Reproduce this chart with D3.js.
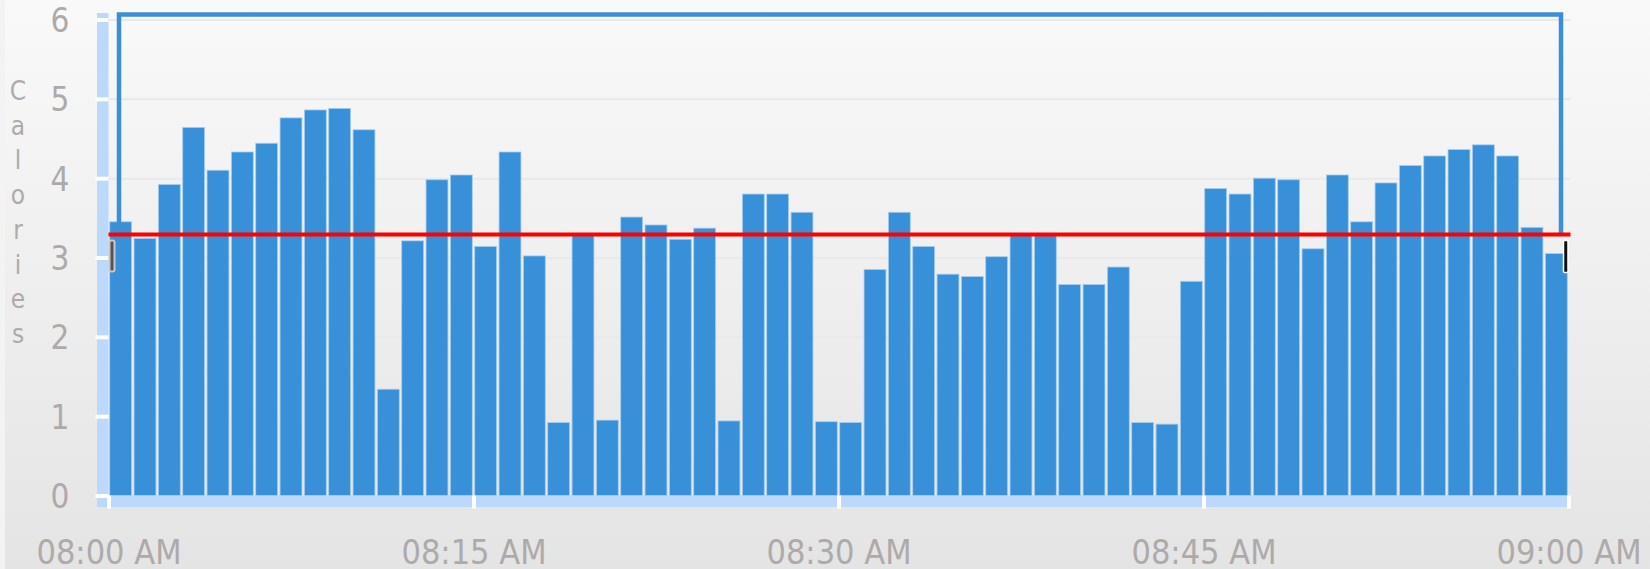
<!DOCTYPE html>
<html>
<head>
<meta charset="utf-8">
<script src="https://cdn.jsdelivr.net/npm/d3@7"></script>
<style>
  body { margin: 0; background: #f3f3f3; }
  svg { display: block; }
</style>
</head>
<body>
<script>
// ---------------- data ----------------
const calories = [3.45, 3.24, 3.92, 4.64, 4.10, 4.33, 4.44, 4.76, 4.86, 4.88,
                  4.61, 1.34, 3.21, 3.98, 4.04, 3.14, 4.33, 3.02, 0.92, 3.28,
                  0.95, 3.51, 3.41, 3.23, 3.37, 0.94, 3.80, 3.80, 3.57, 0.93,
                  0.92, 2.85, 3.57, 3.14, 2.79, 2.76, 3.01, 3.28, 3.28, 2.66,
                  2.66, 2.88, 0.92, 0.90, 2.70, 3.87, 3.80, 4.00, 3.98, 3.11,
                  4.04, 3.45, 3.94, 4.16, 4.28, 4.36, 4.42, 4.28, 3.38, 3.05];
const avgCalories = 3.29;
const yTicks = [0, 1, 2, 3, 4, 5, 6];
const xTickLabels = ["08:00 AM", "08:15 AM", "08:30 AM", "08:45 AM", "09:00 AM"];
const axisTitle = "Calories";

const parseTime = d3.timeParse("%I:%M %p");
const start = parseTime("08:00 AM"),
      end   = parseTime("09:00 AM");
// one bar per minute
const minutes = d3.timeMinute.range(start, end);

// ---------------- layout ----------------
const W = 1650, H = 569;
const plotLeft = 108.5, plotRight = 1568.5, plotTop = 19.5, plotBottom = 495.5;

const svg = d3.select("body").append("svg")
    .attr("width", W)
    .attr("height", H);

// background gradient
const grad = svg.append("defs").append("linearGradient")
    .attr("id", "bg").attr("x1", 0).attr("y1", 0).attr("x2", 0).attr("y2", 1);
grad.append("stop").attr("offset", "0%").attr("stop-color", "#f9f9f9");
grad.append("stop").attr("offset", "100%").attr("stop-color", "#e4e4e4");
svg.append("rect")
    .attr("x", 5).attr("y", 0).attr("width", W - 5).attr("height", H)
    .attr("fill", "url(#bg)");

// scales
const xTime = d3.scaleTime().domain([start, end]).range([plotLeft, plotRight]);
const xBand = d3.scaleBand().domain(minutes).range([plotLeft, plotRight])
    .paddingInner(0.1).paddingOuter(0.05);
const y = d3.scaleLinear().domain([0, 6]).range([plotBottom, plotTop]);

// gridlines
svg.append("g")
    .attr("transform", `translate(${plotLeft},0)`)
    .call(d3.axisLeft(y).tickValues(yTicks.slice(1)).tickSize(-(plotRight - plotLeft + 2)).tickFormat(""))
    .call(g => g.select(".domain").remove())
    .call(g => g.selectAll("line").attr("stroke", "#e9e9e9").attr("stroke-width", 2));

// light blue axis bands
svg.append("rect")
    .attr("x", 97).attr("y", 13).attr("width", 11.5).attr("height", 507 - 13)
    .attr("fill", "#bcd8fb");
svg.append("rect")
    .attr("x", 97).attr("y", plotBottom).attr("width", plotRight - 97).attr("height", 11.5)
    .attr("fill", "#bcd8fb");

// bars
svg.selectAll("rect.bar")
    .data(calories)
    .enter()
    .append("rect")
        .attr("class", "bar")
        .attr("x", (d, i) => xBand(minutes[i]))
        .attr("y", d => y(d))
        .attr("width", xBand.bandwidth())
        .attr("height", d => plotBottom - y(d))
        .attr("fill", "#3790d8")
        .attr("stroke", "#a8cdee")
        .attr("stroke-width", 0.8);

const labelFont = "'DejaVu Sans Condensed', 'DejaVu Sans', Tahoma, sans-serif";

// y axis
svg.append("g")
    .attr("transform", `translate(${plotLeft},0)`)
    .call(d3.axisLeft(y).tickValues(yTicks).tickSize(13).tickPadding(26).tickFormat(d3.format("d")))
    .call(g => g.select(".domain").remove())
    .call(g => g.selectAll("line").attr("stroke", "#fff").attr("stroke-width", 4))
    .call(g => g.selectAll("text")
        .attr("font-family", labelFont)
        .attr("font-size", "33px")
        .attr("fill", "#aeaaaa")
        .attr("dy", "0.36em"));

// x axis
const xTicks = xTickLabels.map(parseTime);
svg.append("g")
    .attr("transform", `translate(0,${plotBottom})`)
    .call(d3.axisBottom(xTime).tickValues(xTicks).tickSize(13).tickFormat(d3.timeFormat("%I:%M %p")))
    .call(g => g.select(".domain").remove())
    .call(g => g.selectAll("line").attr("stroke", "#fff").attr("stroke-width", 4))
    .call(g => g.selectAll("text")
        .attr("font-family", labelFont)
        .attr("font-size", "34px")
        .attr("fill", "#aeaaaa")
        .attr("y", 68)
        .attr("dy", 0));

// range selector bracket
const yAvg = y(avgCalories);
svg.append("path")
    .attr("d", `M119,${yAvg} V14.5 H1561 V${yAvg}`)
    .attr("fill", "none")
    .attr("stroke", "#3a8fd7")
    .attr("stroke-width", 4.5);

// average line
svg.append("line")
    .attr("x1", plotLeft).attr("x2", plotRight + 2)
    .attr("y1", yAvg).attr("y2", yAvg)
    .attr("stroke", "#ff0000")
    .attr("stroke-width", 4);

// drag handles
svg.append("rect")
    .attr("x", 109.5).attr("y", yAvg + 6).attr("width", 5).attr("height", 31).attr("rx", 2)
    .attr("fill", "#555").attr("stroke", "#c8c8c8").attr("stroke-width", 2);
svg.append("rect")
    .attr("x", 1563.5).attr("y", yAvg + 6).attr("width", 4.5).attr("height", 32).attr("rx", 1)
    .attr("fill", "#111").attr("stroke", "#fff").attr("stroke-width", 1.5);

// vertical stacked axis title
svg.append("g")
    .selectAll("text")
    .data(axisTitle.split(""))
    .enter()
    .append("text")
        .text(d => d)
        .attr("x", 18)
        .attr("y", (d, i) => 100 + i * 34.7)
        .attr("text-anchor", "middle")
        .attr("font-family", labelFont)
        .attr("font-size", "26px")
        .attr("fill", "#aeaaaa");
</script>
</body>
</html>
